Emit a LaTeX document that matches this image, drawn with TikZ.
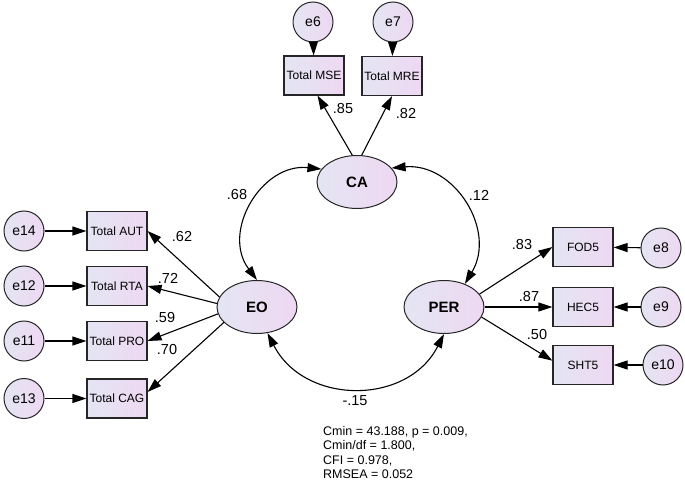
\documentclass[tikz,border=0pt]{standalone}
\usepackage{fontspec}
\setmainfont{Liberation Sans}
\usetikzlibrary{arrows.meta,shapes.geometric}

\definecolor{fillL}{RGB}{228,229,243}
\definecolor{fillR}{RGB}{238,216,242}

\tikzset{
  obsbox/.style={draw=black!85, line width=1.1pt, minimum width=60pt, minimum height=39pt,
    inner sep=0pt, left color=fillL, right color=fillR, font=\fontsize{12}{14}\selectfont},
  latent/.style={ellipse, draw=black!85, line width=1pt, minimum width=80pt, minimum height=53pt,
    inner sep=0pt, left color=fillL, right color=fillR, font=\fontsize{15}{17}\selectfont\bfseries},
  errc/.style={circle, draw=black!85, line width=1pt, minimum size=40pt, inner sep=0pt,
    left color=fillL, right color=fillR, font=\fontsize{14}{16}\selectfont},
  lbl/.style={inner sep=0pt, font=\fontsize{14.5}{16}\selectfont},
  ldarrow/.style={-{Triangle[length=14pt,width=9pt]}, line width=1.1pt},
  covarrow/.style={{Triangle[length=14pt,width=9pt]}-{Triangle[length=14pt,width=9pt]}, line width=1.1pt}
}

\begin{document}
\begin{tikzpicture}[x=1pt,y=1pt]
\useasboundingbox (0,0) rectangle (685,480);

% latent variables
\node[latent] (ca) at (357,298) {CA};
\node[latent] (eo) at (257,173) {EO};
\node[latent] (per) at (444,173) {PER};

% CA indicators
\node[obsbox] (mse) at (314,404.5) {Total MSE};
\node[obsbox] (mre) at (392,404) {Total MRE};
\node[errc] (e6) at (313,458) {e6};
\node[errc] (e7) at (393,458) {e7};

% EO indicators
\node[obsbox] (aut) at (117,249) {Total AUT};
\node[obsbox] (rta) at (117,194) {Total RTA};
\node[obsbox] (pro) at (117,139) {Total PRO};
\node[obsbox] (cag) at (117,81.5) {Total CAG};
\node[errc] (e14) at (24,249) {e14};
\node[errc] (e12) at (24,194) {e12};
\node[errc] (e11) at (24,139) {e11};
\node[errc] (e13) at (24,81.5) {e13};

% PER indicators
\node[obsbox] (fod) at (583,233) {FOD5};
\node[obsbox] (hec) at (583,173) {HEC5};
\node[obsbox] (sht) at (583,115) {SHT5};
\node[errc] (e8) at (661,232) {e8};
\node[errc] (e9) at (661,173) {e9};
\node[errc] (e10) at (663,115) {e10};

% error paths
\draw[ldarrow] (e6) -- (mse);
\draw[ldarrow] (e7) -- (mre);
\draw[ldarrow] (e14) -- (aut);
\draw[ldarrow] (e12) -- (rta);
\draw[ldarrow] (e11) -- (pro);
\draw[ldarrow] (e13) -- (cag);
\draw[ldarrow] (e8) -- (fod);
\draw[ldarrow] (e9) -- (hec);
\draw[ldarrow] (e10) -- (sht);

% loadings
\draw[ldarrow] (ca.100) -- (mse.-80);
\draw[ldarrow] (ca.80) -- (mre.south);
\draw[ldarrow] (eo.165) -- (aut.east);
\draw[ldarrow] (eo.175) -- (rta.east);
\draw[ldarrow] (eo.190) -- (pro.east);
\draw[ldarrow] (eo.205) -- (cag.12);
\draw[ldarrow] (per.20) -- (fod.west);
\draw[ldarrow] (per.east) -- (hec.west);
\draw[ldarrow] (per.-15) -- (sht.172);

% covariances
\draw[covarrow] (ca.160) to[out=174, in=127, looseness=1.2] (eo.north);
\draw[covarrow] (ca.22) to[out=5, in=59, looseness=1.17] (per.48);
\draw[covarrow] (eo.-68) to[out=297, in=243, looseness=1.17] (per.south);

% estimates
\node[lbl] (l85) at (343,371) {.85};
\node[lbl] (l82) at (406,366) {.82};
\node[lbl] (l68) at (237,285) {.68};
\node[lbl] (l12) at (479,285) {.12};
\node[lbl] (l62) at (182,243) {.62};
\node[lbl] (l72) at (168,202) {.72};
\node[lbl] (l59) at (165,162) {.59};
\node[lbl] (l70) at (167,130) {.70};
\node[lbl] (l83) at (522,235) {.83};
\node[lbl] (l87) at (529,183) {.87};
\node[lbl] (l50) at (537,145) {.50};
\node[lbl] (l15) at (355,79) {-.15};

\node[anchor=base west, align=left, inner sep=0pt, font=\fontsize{12.5}{14.3}\selectfont] (stats) at (323,1.5)
  {Cmin = 43.188, p = 0.009,\\Cmin/df = 1.800,\\CFI = 0.978,\\RMSEA = 0.052};
\end{tikzpicture}
\end{document}
